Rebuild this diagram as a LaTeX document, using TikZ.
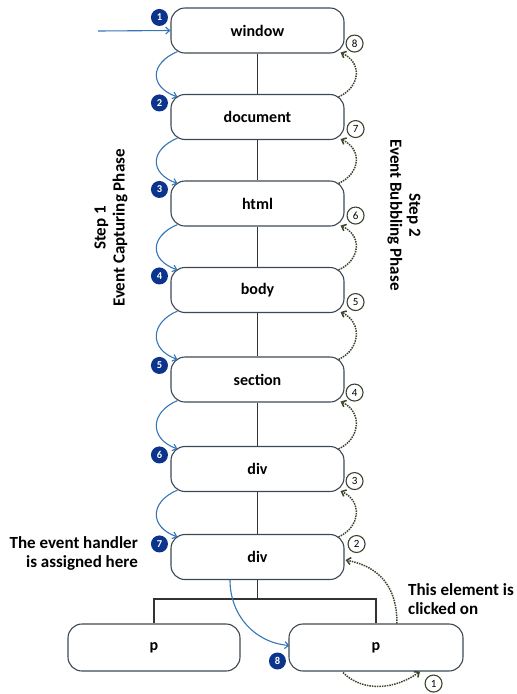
\documentclass[tikz,border=0pt]{standalone}
\usepackage{fontspec}
\setmainfont{Carlito}
\usetikzlibrary{arrows.meta,calc}
\definecolor{boxc}{RGB}{60,72,84}
\definecolor{bluec}{RGB}{52,118,184}
\definecolor{navyc}{RGB}{12,52,140}
\definecolor{dotc}{RGB}{58,70,44}
\begin{document}
\begin{tikzpicture}[x=1pt,y=-1pt,
  box/.style={draw=boxc, line width=1.1pt, rounded corners=14pt, minimum width=173pt, minimum height=45pt, inner sep=0pt, font=\bfseries\fontsize{16}{19}\selectfont},
  bnum/.style={circle, fill=navyc, text=white, inner sep=0pt, minimum size=17pt, font=\bfseries\fontsize{10.5}{10.5}\selectfont},
  wnum/.style={circle, draw=dotc, line width=1.1pt, fill=white, inner sep=0pt, minimum size=17pt, font=\fontsize{11}{11}\selectfont},
  barr/.style={draw=bluec, line width=1.1pt, -{Straight Barb[length=4pt,width=7pt]}},
  darr/.style={draw=dotc, line width=1.5pt, densely dotted, -{Straight Barb[length=4pt,width=7pt]}},
  tline/.style={draw=black!80, line width=1.1pt},
  txt/.style={font=\bfseries\fontsize{17}{19}\selectfont, inner sep=0pt}]
\useasboundingbox (0,0) rectangle (517,694);
% boxes
\node[box] (w) at (257.5,30.5) {window};
\node[box] (d) at (257.5,117) {document};
\node[box] (h) at (257.5,203.5) {html};
\node[box] (b) at (257.5,290) {body};
\node[box] (s) at (257.5,379.5) {section};
\node[box] (v1) at (257.5,469) {div};
\node[box] (v2) at (257.5,557) {div};
\node[box, minimum width=172pt, minimum height=47pt] (p1) at (154,647.5) {p};
\node[box, minimum width=174pt, minimum height=47pt] (p2) at (376,647.5) {p};
% tree lines
\draw[tline] (w.south) -- (d.north);
\draw[tline] (d.south) -- (h.north);
\draw[tline] (h.south) -- (b.north);
\draw[tline] (b.south) -- (s.north);
\draw[tline] (s.south) -- (v1.north);
\draw[tline] (v1.south) -- (v2.north);
\coordinate (j) at (257.5,599);
\draw[tline] (v2.south) -- (j);
\draw[tline] (p1.north) |- (j) -| (p2.north);
% capturing arrows
\coordinate (in) at (98,31);
\draw[barr] (in) -- (w.west);
\foreach \a/\b in {w/d,d/h,h/b,b/s,s/v1,v1/v2}{
  \draw[barr] ($(\a.south west)+(7,-2)$) .. controls +(-28,12) and +(-28,-10) .. ($(\b.north west)+(7,3)$);
}
\draw[barr] ($(v2.south)+(-27.5,0)$) .. controls +(0,35) and +(-35,-3) .. ($(p2.west)+(1,-2)$);
% bubbling arrows
\foreach \a/\b in {d/w,h/d,b/h,s/b,v1/s,v2/v1}{
  \draw[darr] ($(\a.north east)+(-6,3)$) .. controls +(22,-10) and +(22,10) .. ($(\b.south east)+(-4,-1)$);
}
\draw[darr] ($(p2.north)+(21,0)$) .. controls +(0,-45) and +(25,5) .. ($(v2.east)+(1,3)$);
\draw[darr] ($(p2.south)+(-33,1)$) .. controls +(20,20) and +(-25,18) .. ($(p2.south)+(44,0)$);
% blue numbers
\node[bnum] (n1) at ($(w.north west)+(-11,10)$) {1};
\node[bnum] (n2) at ($(d.north west)+(-11,9)$) {2};
\node[bnum] (n3) at ($(h.north west)+(-11,9)$) {3};
\node[bnum] (n4) at ($(b.north west)+(-11,9)$) {4};
\node[bnum] (n5) at ($(s.north west)+(-11,9)$) {5};
\node[bnum] (n6) at ($(v1.north west)+(-11,9)$) {6};
\node[bnum] (n7) at ($(v2.north west)+(-11,10)$) {7};
\node[bnum] (n8) at ($(p2.west)+(-11,13.5)$) {8};
% white numbers
\node[wnum] (m8) at ($(w.south east)+(10,-10)$) {8};
\node[wnum] (m7) at ($(d.south east)+(11,-11)$) {7};
\node[wnum] (m6) at ($(h.south east)+(11,-11)$) {6};
\node[wnum] (m5) at ($(b.south east)+(11,-11)$) {5};
\node[wnum] (m4) at ($(s.south east)+(10,-10)$) {4};
\node[wnum] (m3) at ($(v1.south east)+(10,-11)$) {3};
\node[wnum] (m2) at ($(v2.east)+(12,-13)$) {2};
\node[wnum] (m1) at ($(p2.south east)+(-30,12)$) {1};
% texts
\node[txt, align=right, anchor=east] (t1) at (138,553) {The event handler\\is assigned here};
\node[txt, align=left, anchor=west] (t2) at (408,599) {This element is\\clicked on};
\node[txt, rotate=90, align=center] (s1) at (111,228) {Step 1\\Event Capturing Phase};
\node[txt, rotate=-90, align=center] (s2) at (404,215) {Step 2\\Event Bubbling Phase};
\end{tikzpicture}
\end{document}
